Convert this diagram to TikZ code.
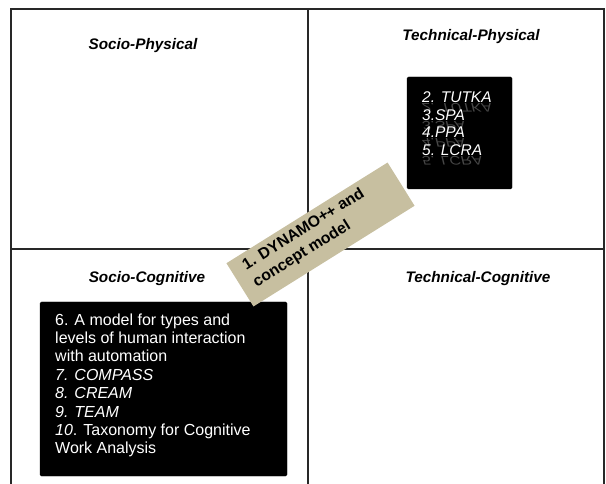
\documentclass[tikz,border=0pt]{standalone}
\usepackage{fontspec}
\setmainfont{Liberation Sans}
\definecolor{khaki}{RGB}{199,191,160}
\definecolor{frameline}{RGB}{40,40,40}
\tikzset{
  gridline/.style={draw=frameline, line width=1.2pt},
  heading/.style={anchor=base, inner sep=0pt, font=\fontsize{15.3}{18}\selectfont\bfseries\itshape},
  darkpanel/.style={fill=black, draw=black, rounded corners=1.5pt},
  entry/.style={anchor=base west, inner sep=0pt, text=white, font=\fontsize{16}{18}\selectfont},
  mirror/.style={anchor=base west, inner sep=0pt, text=white, text opacity=0.28, yscale=-0.8, transform shape, font=\fontsize{15.5}{18}\selectfont\itshape},
  tanlabel/.style={anchor=base west, inner sep=0pt, text=black, font=\fontsize{15.8}{18}\selectfont\bfseries},
}
\begin{document}
\begin{tikzpicture}[x=1pt, y=-1pt]
  \useasboundingbox (0,0) rectangle (606,484);

  % quadrant frame, open at the bottom
  \coordinate (tl) at (11,9);
  \coordinate (tr) at (604,9);
  \coordinate (bl) at (11,486);
  \coordinate (br) at (604,486);
  \coordinate (mt) at (308,9);
  \coordinate (mb) at (308,486);
  \coordinate (ml) at (11,249);
  \coordinate (mr) at (604,249);
  \draw[gridline] (bl) -- (tl) -- (tr) -- (br);
  \draw[gridline] (mt) -- (mb);
  \draw[gridline] (ml) -- (mr);

  % quadrant headings
  \node[heading] (sp) at (143,50) {Socio-Physical};
  \node[heading] (tp) at (471,41) {Technical-Physical};
  \node[heading] (sc) at (147,283) {Socio-Cognitive};
  \node[heading] (tc) at (478,283) {Technical-Cognitive};

  % technical-physical methods, with mirrored echoes
  \path[darkpanel] (407,77) rectangle (512,189);
  \foreach \txt/\yy [count=\i] in {2. TUTKA/103, 3.SPA/120.5, 4.PPA/138, 5. LCRA/156}{
    \node[mirror] (echo\i) at (422,\yy+1) {\txt};
  }
  \node[entry, font=\fontsize{15.5}{18}\selectfont\itshape] (m2) at (422,103) {2. TUTKA};
  \node[entry, font=\fontsize{15.5}{18}\selectfont\itshape] (m3) at (422,120.5) {3.SPA};
  \node[entry, font=\fontsize{15.5}{18}\selectfont\itshape] (m4) at (422,138) {4.PPA};
  \node[entry, font=\fontsize{15.5}{18}\selectfont\itshape] (m5) at (422,156) {5. LCRA};

  % socio-cognitive methods
  \path[darkpanel] (40,302) rectangle (287,476);
  \node[entry] (m6a) at (55,325) {6. A model for types and};
  \node[entry] (m6b) at (55,343.4) {levels of human interaction};
  \node[entry] (m6c) at (55,361.8) {with automation};
  \node[entry] (m7) at (55,380.2) {\itshape 7. COMPASS};
  \node[entry] (m8) at (55,398.6) {\itshape 8. CREAM};
  \node[entry] (m9) at (55,417) {\itshape 9. TEAM};
  \node[entry] (m10a) at (55,435.4) {\textit{10}. Taxonomy for Cognitive};
  \node[entry] (m10b) at (55,453.8) {Work Analysis};

  % the tilted label spanning all four quadrants
  \begin{scope}[shift={(320.5,234.5)}, rotate=32, transform shape]
    \node[fill=khaki, draw=none, minimum width=190pt, minimum height=51pt, inner sep=0pt] (dyn) at (0,0) {};
    \node[tanlabel] (dyn1) at (-82,-9) {1. DYNAMO++ and};
    \node[tanlabel] (dyn2) at (-82,11) {concept model};
  \end{scope}
\end{tikzpicture}
\end{document}
